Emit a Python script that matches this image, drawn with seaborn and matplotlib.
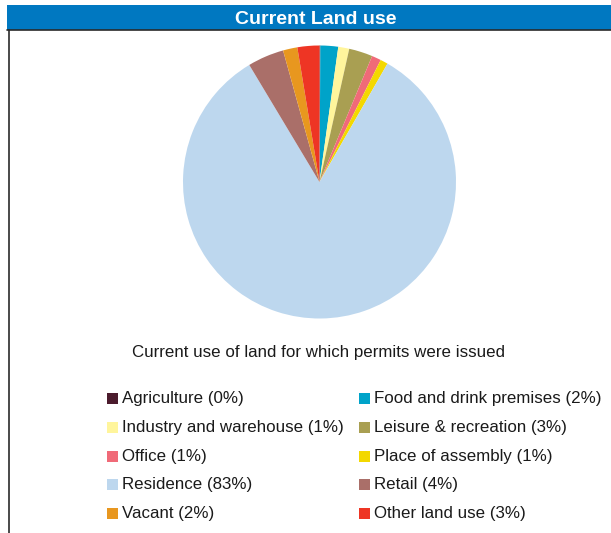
import matplotlib
matplotlib.use("Agg")
import matplotlib.pyplot as plt
from matplotlib.patches import Rectangle
from matplotlib.lines import Line2D
import seaborn as sns

# Land-use categories, in drawing order (clockwise from 12 o'clock)
categories = [
    "Agriculture", "Food and drink premises", "Industry and warehouse",
    "Leisure & recreation", "Office", "Place of assembly", "Residence",
    "Retail", "Vacant", "Other land use",
]
shares = [0.1, 2.1, 1.3, 2.8, 1.1, 0.9, 83.1, 4.3, 1.7, 2.6]
colors = [
    "#4b1b2d", "#00a3c9", "#fff59c", "#a99f52", "#f06a78", "#f3d800",
    "#bdd7ee", "#aa6f69", "#e8971f", "#ee3524",
]

sns.set_theme(style="white")
plt.rcParams["font.family"] = ["Liberation Sans", "DejaVu Sans"]
palette = sns.color_palette(colors)

W, H = 611, 533
fig = plt.figure(figsize=(W / 100, H / 100), dpi=100)
fig.patch.set_facecolor("white")


def fx(px):
    return px / W


def fy(py):
    return 1 - py / H


# Header bar
fig.patches.append(Rectangle((fx(7), fy(29.5)), 1 - fx(7), fy(5) - fy(29.5),
                             transform=fig.transFigure, facecolor="#0078c1",
                             edgecolor="none", zorder=0))
fig.text(fx(316), fy(19), "Current Land use", ha="center", va="center",
         color="white", fontsize=14, fontweight="bold")
fig.lines.append(Line2D([fx(7), 1], [fy(30), fy(30)], transform=fig.transFigure,
                        color="#2a2a2a", lw=1.2))
fig.lines.append(Line2D([fx(8.5), fx(8.5)], [fy(30), 0], transform=fig.transFigure,
                        color="#2a2a2a", lw=1.2))

# Pie
cx, cy, r = 319.5, 182, 136.5
ax = fig.add_axes([fx(cx - r), fy(cy + r), 2 * r / W, 2 * r / H])
ax.pie(shares, colors=palette, startangle=90, counterclock=False, radius=1,
       wedgeprops=dict(linewidth=0))
ax.set_xlim(-1, 1)
ax.set_ylim(-1, 1)
ax.set_aspect("equal")
ax.axis("off")

fig.text(fx(318.5), fy(352), "Current use of land for which permits were issued",
         ha="center", va="center", fontsize=12.2, color="#1a1a1a")

# Legend, two columns filled row by row
total = sum(shares)
col_x = [107, 359]
row_y = [398.7, 427.2, 456, 484.7, 513.2]
for i, (cat, val, c) in enumerate(zip(categories, shares, palette)):
    row, col = divmod(i, 2)
    x0, y0 = col_x[col], row_y[row]
    fig.patches.append(Rectangle((fx(x0), fy(y0 + 5.5)), 11 / W, 11 / H,
                                 transform=fig.transFigure, facecolor=c,
                                 edgecolor="none"))
    pct = round(val / total * 100)
    fig.text(fx(x0 + 15.5), fy(y0), f"{cat} ({pct}%)", ha="left", va="center",
             fontsize=12.2, color="#1a1a1a")

fig.savefig("out.png", dpi=100, facecolor="white")
